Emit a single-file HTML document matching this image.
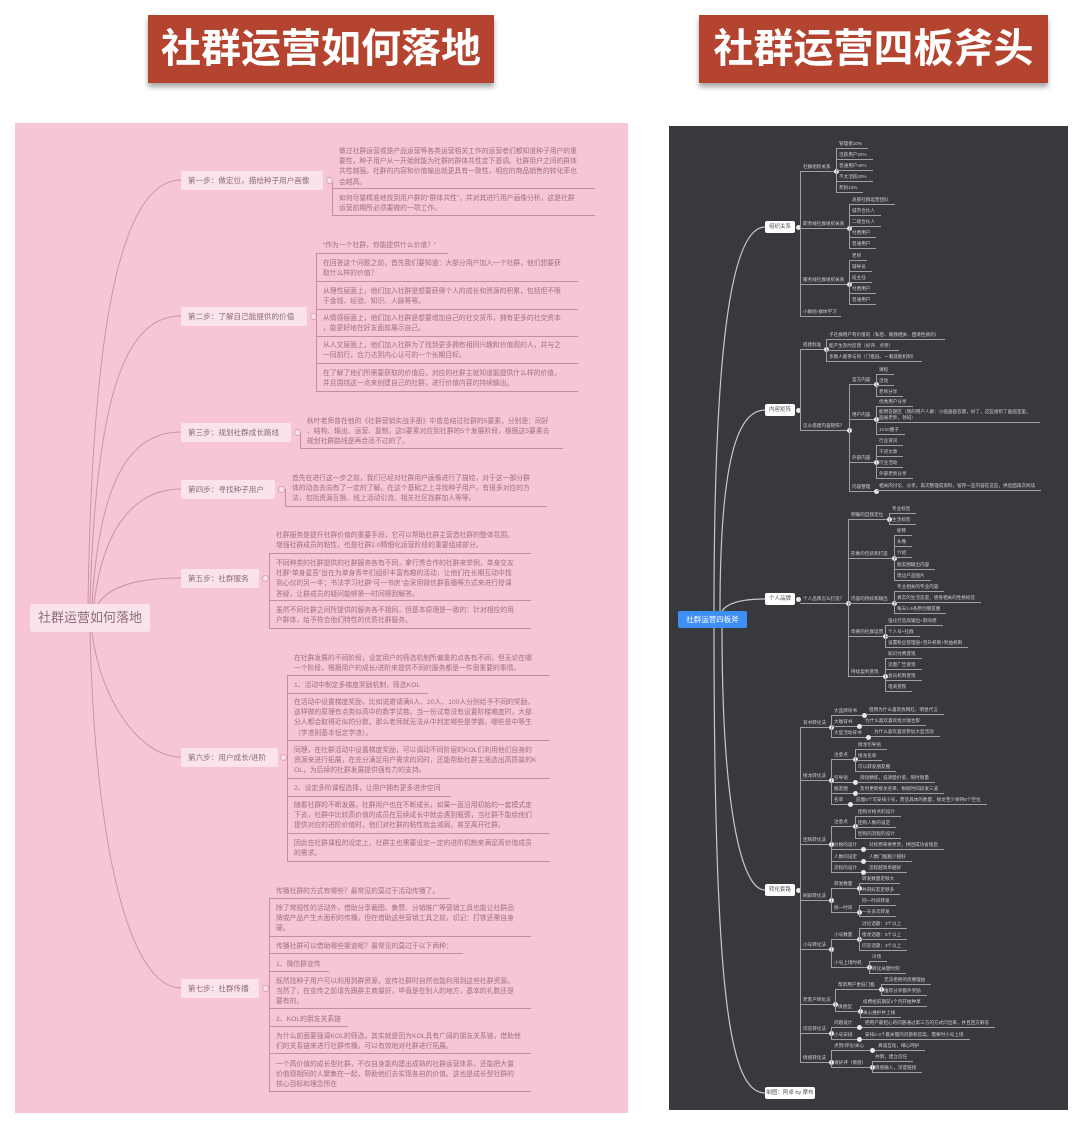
<!DOCTYPE html>
<html><head><meta charset="utf-8">
<style>
*{margin:0;padding:0;box-sizing:border-box}
body{width:1080px;height:1121px;background:#fff;position:relative;overflow:hidden;font-family:"Liberation Sans","Noto Sans CJK SC",sans-serif}
.title{position:absolute;top:15px;height:68px;background:#b4442f;color:#fff;font-size:40px;font-weight:bold;text-align:center;line-height:68px;box-shadow:0 4px 5px rgba(0,0,0,.35)}
#pink{position:absolute;left:15px;top:123px;width:613px;height:990px;background:#f7c6d6}
#dark{position:absolute;left:669px;top:126px;width:399px;height:984px;background:#38393d}
.a{position:absolute}
.step{position:absolute;left:181px;height:19px;background:#fbe3ea;border-radius:2px;color:#8c6b74;font-size:7.6px;line-height:19px;padding-left:7px;white-space:nowrap;overflow:hidden}
.tg{position:absolute;width:7px;height:7px;border-radius:50%;background:#fbe3ea;border:1px solid #d7a6b4}
.t{position:absolute;font-size:6.8px;line-height:10.2px;color:#a0707f;white-space:nowrap}
.u{position:absolute;height:0;border-top:1px solid #c48ea0}
.vb{position:absolute;width:0;border-left:1px solid #c48ea0}
.l{position:absolute;font-size:4.6px;line-height:6px;color:#cfcfcf;border-bottom:1px solid #a0a0a0;padding:0 6px 1px 3px;white-space:nowrap}
.g{position:absolute;font-size:4.6px;line-height:6px;color:#cfcfcf;border-bottom:1px solid #a0a0a0;padding:0 4px 1px 3px;white-space:nowrap}
.v{position:absolute;width:0;border-left:1px solid #a0a0a0}
.d{position:absolute;width:5px;height:5px;border-radius:50%;background:#e8e8e8;margin:-2px 0 0 -2px}
.bx{position:absolute;background:#fff;color:#555;font-size:5.5px;line-height:12px;height:12px;text-align:center;border-radius:2px;white-space:nowrap}
</style></head><body>
<div class="title" style="left:148px;width:346px">社群运营如何落地</div>
<div class="title" style="left:699px;width:349px">社群运营四板斧头</div>

<div id="pink"></div>
<svg class="a" style="left:0;top:0" width="1080" height="1121">
<g fill="none" stroke="#c995a5" stroke-width="1">
<path d="M88,604 C92,330 120,180 181,180"/>
<path d="M90,604 C96,380 130,316 181,316"/>
<path d="M92,604 C100,470 135,432 181,432"/>
<path d="M94,604 C104,520 140,489 181,489"/>
<path d="M98,604 C110,585 140,578 181,578"/>
<path d="M92,632 C100,700 140,757 181,757"/>
<path d="M90,632 C95,850 130,988 181,988"/>
</g>
</svg>

<div class="a" style="left:30px;top:604px;width:120px;height:28px;background:#fbe3ea;border-radius:3px;color:#8c6b74;font-size:13px;line-height:28px;text-align:center">社群运营如何落地</div>

<div class="step" style="top:171px;width:142px">第一步：做定位，描绘种子用户画像</div><div class="tg" style="left:326px;top:177px"></div>
<div class="step" style="top:307px;width:126px">第二步：了解自己能提供的价值</div><div class="tg" style="left:310px;top:313px"></div>
<div class="step" style="top:423px;width:110px">第三步：规划社群成长路线</div><div class="tg" style="left:294px;top:429px"></div>
<div class="step" style="top:480px;width:94px">第四步：寻找种子用户</div><div class="tg" style="left:278px;top:486px"></div>
<div class="step" style="top:569px;width:78px">第五步：社群服务</div><div class="tg" style="left:262px;top:575px"></div>
<div class="step" style="top:748px;width:97px">第六步：用户成长/进阶</div><div class="tg" style="left:280px;top:754px"></div>
<div class="step" style="top:979px;width:78px">第七步：社群传播</div><div class="tg" style="left:262px;top:985px"></div>

<div class="vb" style="left:332px;top:182px;height:33px"></div>
<div class="t" style="left:339px;top:147px">做过社群运营或是产品运营等各类运营相关工作的运营者们都知道种子用户的重<br>要性，种子用户从一开始就能为社群的群体共性定下基调。社群用户之间的群体<br>共性越强，社群的内容和价值输出就更具有一致性，相应的商品销售的转化率也<br>会越高。</div>
<div class="u" style="left:332px;top:188px;width:263px"></div>
<div class="t" style="left:339px;top:194px">如何尽量精准地找到用户群的“群体共性”，并对其进行用户画像分析，这是社群<br>运营前期所必须要做的一项工作。</div>
<div class="u" style="left:332px;top:215px;width:263px"></div>
<div class="vb" style="left:316px;top:253px;height:138px"></div>
<div class="t" style="left:323px;top:241px">“作为一个社群，你能提供什么价值？”</div>
<div class="u" style="left:316px;top:253px;width:132px"></div>
<div class="t" style="left:323px;top:259px">在回答这个问题之前，首先我们要知道：大部分用户加入一个社群，他们想要获<br>取什么样的价值？</div>
<div class="u" style="left:316px;top:281px;width:262px"></div>
<div class="t" style="left:323px;top:287px">从理性层面上，他们加入社群是想要获得个人的成长和资源的积累，包括但不限<br>于金钱、经验、知识、人脉等等。</div>
<div class="u" style="left:316px;top:309px;width:262px"></div>
<div class="t" style="left:323px;top:314px">从情感层面上，他们加入社群是想要增加自己的社交货币，拥有更多的社交资本<br>，能更好地在好友面前展示自己。</div>
<div class="u" style="left:316px;top:336px;width:262px"></div>
<div class="t" style="left:323px;top:341px">从人文层面上，他们加入社群为了找到更多拥有相同兴趣和价值观的人，并与之<br>一同前行，合力达到内心认可的一个长期目标。</div>
<div class="u" style="left:316px;top:363px;width:262px"></div>
<div class="t" style="left:323px;top:369px">在了解了他们所需要获取的价值后，对应的社群主就知道能提供什么样的价值，<br>并且围绕这一点来创建自己的社群，进行价值内容的持续输出。</div>
<div class="u" style="left:316px;top:391px;width:262px"></div>
<div class="vb" style="left:300px;top:432px;height:16px"></div>
<div class="t" style="left:307px;top:417px">秋叶老师曾在他的《社群营销实战手册》中曾总结过社群的5要素，分别是：同好<br>、结构、输出、运营、复制。这5要素对应到社群的5个发展阶段，根据这5要素去<br>规划社群路线是再合适不过的了。</div>
<div class="u" style="left:300px;top:448px;width:263px"></div>
<div class="vb" style="left:285px;top:489px;height:17px"></div>
<div class="t" style="left:292px;top:474px">首先在进行这一步之前，我们已经对社群用户画像进行了描绘，对于这一部分群<br>体的动态去向有了一定的了解。在这个基础之上寻找种子用户，有很多对应的方<br>法，包括资源互换、线上活动引流、相关社区找群加人等等。</div>
<div class="u" style="left:285px;top:506px;width:262px"></div>
<div class="vb" style="left:269px;top:553px;height:75px"></div>
<div class="t" style="left:276px;top:531px">社群服务是提升社群价值的重要手段，它可以帮助社群主营造社群的整体氛围，<br>增强社群成员的粘性，也是社群2.0精细化运营阶段的重要组成部分。</div>
<div class="u" style="left:269px;top:553px;width:262px"></div>
<div class="t" style="left:276px;top:559px">不同种类的社群提供的社群服务各有不同，拿行秀合作的社群来举例，单身交友<br>社群“单身星吾”旨在为单身青年们组织丰富有趣的活动，让他们在长期互动中找<br>到心仪的另一半；书法学习社群“可一书房”会采用微信群直播等方式来进行授课<br>答疑，让群成员的疑问能够第一时间得到解答。</div>
<div class="u" style="left:269px;top:600px;width:262px"></div>
<div class="t" style="left:276px;top:606px">虽然不同社群之间所提供的服务各不相同，但基本原理是一致的：针对相应的用<br>户群体，给予符合他们特性的优质社群服务。</div>
<div class="u" style="left:269px;top:628px;width:262px"></div>
<div class="vb" style="left:287px;top:675px;height:186px"></div>
<div class="t" style="left:294px;top:654px">在社群发展的不同阶段，设定用户的筛选机制所偏重的点各有不同，但无论在哪<br>一个阶段，根据用户的成长/进阶来提供不同的服务都是一件很重要的事情。</div>
<div class="u" style="left:287px;top:675px;width:263px"></div>
<div class="t" style="left:294px;top:681px">1、活动中制定多梯度奖励机制，筛选KOL</div>
<div class="u" style="left:287px;top:693px;width:141px"></div>
<div class="t" style="left:294px;top:698px">在活动中设置梯度奖励，比如说邀请满5人、20人、100人分别给予不同的奖励，<br>这样做的原理有点类似高中的数学试卷。当一份试卷没有设置阶梯难度时，大部<br>分人都会取得近似的分数，那么老师就无法从中判定哪些是学霸，哪些是中等生<br>（学渣则基本恒定学渣）。</div>
<div class="u" style="left:287px;top:740px;width:263px"></div>
<div class="t" style="left:294px;top:746px">同理，在社群活动中设置梯度奖励，可以调动不同阶层的KOL们利用他们自身的<br>资源来进行拓展，在充分满足用户需求的同时，还能帮助社群主筛选出高质量的K<br>OL，为后续的社群发展提供强有力的支持。</div>
<div class="u" style="left:287px;top:778px;width:263px"></div>
<div class="t" style="left:294px;top:784px">2、设定多阶课程选择，让用户拥有更多进步空间</div>
<div class="u" style="left:287px;top:796px;width:164px"></div>
<div class="t" style="left:294px;top:801px">随着社群的不断发展，社群用户也在不断成长，如果一直沿用初始的一套模式走<br>下去，社群中比较高价值的成员在后续成长中就会遇到瓶颈，当社群不能给他们<br>提供对应的进阶价值时，他们对社群的粘性就会减弱，甚至离开社群。</div>
<div class="u" style="left:287px;top:833px;width:263px"></div>
<div class="t" style="left:294px;top:839px">因此在社群课程的设定上，社群主也需要设定一定的进阶机制来满足高价值成员<br>的需求。</div>
<div class="u" style="left:287px;top:861px;width:263px"></div>
<div class="vb" style="left:269px;top:898px;height:193px"></div>
<div class="t" style="left:276px;top:887px">传播社群的方式有哪些？最常见的莫过于活动传播了。</div>
<div class="u" style="left:269px;top:898px;width:181px"></div>
<div class="t" style="left:276px;top:904px">除了常规性的活动外，借助分享截图、集赞、分销推广等营销工具也能让社群品<br>牌或产品产生大面积的传播，但在借助这些营销工具之前，切记：打铁还需自身<br>硬。</div>
<div class="u" style="left:269px;top:936px;width:262px"></div>
<div class="t" style="left:276px;top:942px">传播社群可以借助哪些渠道呢？最常见的莫过于以下两种：</div>
<div class="u" style="left:269px;top:953px;width:194px"></div>
<div class="t" style="left:276px;top:960px">1、微信群宣传</div>
<div class="u" style="left:269px;top:971px;width:60px"></div>
<div class="t" style="left:276px;top:977px">既然找种子用户可以利用到群资源，宣传社群时自然也能利用到这些社群资源。<br>当然了，在宣传之前请先跟群主商量好，毕竟是在别人的地方，基本的礼数还是<br>要有的。</div>
<div class="u" style="left:269px;top:1008px;width:262px"></div>
<div class="t" style="left:276px;top:1015px">2、KOL的朋友关系链</div>
<div class="u" style="left:269px;top:1026px;width:79px"></div>
<div class="t" style="left:276px;top:1032px">为什么前面要强调KOL的筛选，其实就是因为KOL具有广阔的朋友关系链，借助他<br>们的关系链来进行社群传播，可以有效地对社群进行拓展。</div>
<div class="u" style="left:269px;top:1053px;width:262px"></div>
<div class="t" style="left:276px;top:1060px">一个高价值的成长型社群，不仅自身能构建出成熟的社群运营体系，还能把大量<br>价值观相同的人聚集在一起，帮助他们去实现各自的价值。这也是成长型社群的<br>核心目标和理念所在</div>
<div class="u" style="left:269px;top:1091px;width:262px"></div>

<div id="dark"></div>
<svg class="a" style="left:0;top:0" width="1080" height="1121">
<g fill="none" stroke="#c8c8c8" stroke-width="1.2">
<path d="M714,611 C714,320 735,227 765,227"/>
<path d="M720,611 C720,450 740,410 765,410"/>
<path d="M722,611 C728,602 745,599 765,599"/>
<path d="M722,628 C722,800 740,890 765,890"/>
<path d="M714,628 C714,1000 730,1093 765,1093"/>
</g></svg>
<div class="a" style="left:678px;top:611px;width:69px;height:17px;background:#3d8ff5;border-radius:2px;color:#fff;font-size:7.5px;line-height:17px;text-align:center">社群运营四板斧</div>

<div class="bx" style="left:765px;top:221px;width:30px">组织关系</div>
<div class="bx" style="left:765px;top:404px;width:30px">内容矩阵</div>
<div class="bx" style="left:765px;top:593px;width:30px">个人品牌</div>
<div class="bx" style="left:765px;top:884px;width:30px">转化套路</div>
<div class="bx" style="left:765px;top:1087px;width:50px">制图：阿卓 by 摩布</div>
<div class="d" style="left:798px;top:227px"></div><div class="d" style="left:798px;top:410px"></div><div class="d" style="left:798px;top:599px"></div><div class="d" style="left:798px;top:890px"></div>

<div class="v" style="left:800px;top:171px;height:145px"></div>
<div class="g" style="left:800px;top:164px;width:36px">社群组织关系</div><div class="d" style="left:836px;top:171px"></div>
<div class="v" style="left:836px;top:148px;height:44px"></div>
<div class="l" style="left:836px;top:141px">管理者10%</div><div class="l" style="left:836px;top:152px">活跃用户20%</div><div class="l" style="left:836px;top:163px">普通用户40%</div><div class="l" style="left:836px;top:174px">不太活跃20%</div><div class="l" style="left:836px;top:185px">死粉10%</div>
<div class="g" style="left:800px;top:221px;width:49px">职责线社群组织关系</div><div class="d" style="left:849px;top:228px"></div>
<div class="v" style="left:849px;top:204px;height:44px"></div>
<div class="l" style="left:849px;top:197px">总部社群运营团队</div><div class="l" style="left:849px;top:208px">城市合伙人</div><div class="l" style="left:849px;top:219px">二级合伙人</div><div class="l" style="left:849px;top:230px">付费用户</div><div class="l" style="left:849px;top:241px">普通用户</div>
<div class="g" style="left:800px;top:277px;width:49px">服务线社群组织关系</div><div class="d" style="left:849px;top:284px"></div>
<div class="v" style="left:849px;top:260px;height:44px"></div>
<div class="l" style="left:849px;top:253px">老师</div><div class="l" style="left:849px;top:264px">辅导员</div><div class="l" style="left:849px;top:275px">班主任</div><div class="l" style="left:849px;top:286px">付费用户</div><div class="l" style="left:849px;top:297px">普通用户</div>
<div class="g" style="left:800px;top:309px">小群组-群体学习</div>

<div class="v" style="left:800px;top:349px;height:81px"></div>
<div class="g" style="left:800px;top:342px;width:26px">搭建标准</div><div class="d" style="left:826px;top:349px"></div>
<div class="v" style="left:826px;top:339px;height:22px"></div>
<div class="l" style="left:826px;top:332px">子社群用户有价值的（私密、跟我相关、困境性质的）</div>
<div class="l" style="left:826px;top:343px">能产生及时反馈（好评、点赞）</div>
<div class="l" style="left:826px;top:354px">多数人能参与的（门槛低、一看就能机制）</div>
<div class="g" style="left:800px;top:423px;width:49px">怎么搭建内容矩阵？</div><div class="d" style="left:849px;top:430px"></div>
<div class="v" style="left:849px;top:384px;height:107px"></div>
<div class="g" style="left:849px;top:377px;width:27px">官方内容</div><div class="d" style="left:876px;top:384px"></div>
<div class="v" style="left:876px;top:374px;height:22px"></div>
<div class="l" style="left:876px;top:367px">课程</div><div class="l" style="left:876px;top:378px">活动</div><div class="l" style="left:876px;top:389px">老师分享</div>
<div class="g" style="left:849px;top:412px;width:27px">用户内容</div><div class="d" style="left:876px;top:419px"></div>
<div class="v" style="left:876px;top:406px;height:28px"></div>
<div class="l" style="left:876px;top:399px">优秀用户分享</div>
<div class="l" style="left:876px;top:409px;width:164px;white-space:normal">能用答题区（我的用户人群：小画画画答题，好了，这些组织了画画室里，画展老师，领班）</div>
<div class="l" style="left:876px;top:427px">1V10圈子</div>
<div class="g" style="left:849px;top:455px;width:27px">外部内容</div><div class="d" style="left:876px;top:462px"></div>
<div class="v" style="left:876px;top:445px;height:33px"></div>
<div class="l" style="left:876px;top:438px">行业资讯</div><div class="l" style="left:876px;top:449px">干货文章</div><div class="l" style="left:876px;top:460px">行业活动</div><div class="l" style="left:876px;top:471px">外部老师分享</div>
<div class="g" style="left:849px;top:484px;width:27px">内容整理</div><div class="d" style="left:876px;top:491px"></div>
<div class="l" style="left:876px;top:483px">相关的讨论、分享，再次整理成资料，留存一些内容在这些，供后面再次阅读</div>

<div class="g" style="left:800px;top:596px;width:48px">个人品牌怎么打造？</div><div class="d" style="left:848px;top:603px"></div>
<div class="v" style="left:848px;top:519px;height:158px"></div>
<div class="g" style="left:848px;top:512px;width:41px">明确的自我定位</div><div class="d" style="left:889px;top:519px"></div>
<div class="v" style="left:889px;top:513px;height:11px"></div>
<div class="l" style="left:889px;top:506px">专业标签</div><div class="l" style="left:889px;top:517px">生活标签</div>
<div class="g" style="left:848px;top:551px;width:46px">形象的包装和打造</div><div class="d" style="left:894px;top:558px"></div>
<div class="v" style="left:894px;top:535px;height:45px"></div>
<div class="l" style="left:894px;top:528px">昵称</div><div class="l" style="left:894px;top:539px">头像</div><div class="l" style="left:894px;top:550px">介绍</div><div class="l" style="left:894px;top:562px">朋友圈输出内容</div><div class="l" style="left:894px;top:573px">周边产品图片</div>
<div class="g" style="left:848px;top:596px;width:46px">内容的持续和输出</div><div class="d" style="left:894px;top:603px"></div>
<div class="v" style="left:894px;top:591px;height:22px"></div>
<div class="l" style="left:894px;top:584px">专业相关的专业内容</div><div class="l" style="left:894px;top:595px">真实的生活态度，感受相关的性格标签</div><div class="l" style="left:894px;top:606px">每天1-5条原创朋友圈</div>
<div class="g" style="left:848px;top:629px;width:37px">简要的社群运营</div><div class="d" style="left:885px;top:636px"></div>
<div class="v" style="left:885px;top:625px;height:22px"></div>
<div class="l" style="left:885px;top:618px">强化打造高输出+影响感</div><div class="l" style="left:885px;top:629px">个人号+社群</div><div class="l" style="left:885px;top:640px">设置粉丝管理层+晋升机制+利益机制</div>
<div class="g" style="left:848px;top:669px;width:37px">持续盈利变现</div><div class="d" style="left:885px;top:676px"></div>
<div class="v" style="left:885px;top:658px;height:33px"></div>
<div class="l" style="left:885px;top:651px">知识付费变现</div><div class="l" style="left:885px;top:662px">流量广告变现</div><div class="l" style="left:885px;top:673px">会员机制变现</div><div class="l" style="left:885px;top:684px">电商变现</div>

<div class="v" style="left:800px;top:727px;height:335px"></div>
<div class="g" style="left:800px;top:720px;width:31px">背书转化法</div><div class="d" style="left:831px;top:727px"></div>
<div class="v" style="left:831px;top:715px;height:22px"></div>
<div class="g" style="left:831px;top:708px;width:33px">大品牌背书</div><div class="d" style="left:864px;top:715px"></div><div class="l" style="left:866px;top:707px">借用为什么喜欢找网红、明星代言</div>
<div class="g" style="left:831px;top:719px;width:28px">大咖背书</div><div class="d" style="left:859px;top:726px"></div><div class="l" style="left:862px;top:718px">为什么喜欢喜欢找大咖合影</div>
<div class="g" style="left:831px;top:730px;width:37px">大型活动背书</div><div class="d" style="left:868px;top:737px"></div><div class="l" style="left:871px;top:729px">为什么喜欢喜欢参加大型活动</div>

<div class="g" style="left:800px;top:773px;width:31px">接龙转化法</div><div class="d" style="left:831px;top:780px"></div>
<div class="v" style="left:831px;top:759px;height:45px"></div>
<div class="g" style="left:831px;top:752px;width:24px">注意点</div><div class="d" style="left:855px;top:759px"></div>
<div class="v" style="left:855px;top:749px;height:22px"></div>
<div class="l" style="left:855px;top:742px">接龙引导语</div><div class="l" style="left:855px;top:753px">接龙名单</div><div class="l" style="left:855px;top:764px">可以转发朋友圈</div>
<div class="g" style="left:831px;top:775px;width:24px">引导语</div><div class="d" style="left:855px;top:782px"></div><div class="l" style="left:857px;top:775px">简短精炼，说清楚价值，限时限量</div>
<div class="g" style="left:831px;top:786px;width:24px">朋友圈</div><div class="d" style="left:855px;top:793px"></div><div class="l" style="left:857px;top:786px">及时更新接龙名单，根据时间段发三波</div>
<div class="g" style="left:831px;top:797px;width:19px">名单</div><div class="d" style="left:850px;top:804px"></div><div class="l" style="left:853px;top:797px">前面5个可安排小号，营造具体的数量，接龙至少保持5个空位</div>

<div class="g" style="left:800px;top:837px;width:31px">团购转化法</div><div class="d" style="left:831px;top:844px"></div>
<div class="v" style="left:831px;top:826px;height:46px"></div>
<div class="g" style="left:831px;top:819px;width:24px">注意点</div><div class="d" style="left:855px;top:826px"></div>
<div class="v" style="left:855px;top:816px;height:22px"></div>
<div class="l" style="left:855px;top:809px">团购价格点的设计</div><div class="l" style="left:855px;top:820px">团购人数的设定</div><div class="l" style="left:855px;top:831px">团购的流程的设计</div>
<div class="g" style="left:831px;top:842px;width:32px">价格的设计</div><div class="d" style="left:863px;top:849px"></div><div class="l" style="left:866px;top:842px">对标原来要更贵，拼团成功省钱后</div>
<div class="g" style="left:831px;top:854px;width:32px">人数的设定</div><div class="d" style="left:863px;top:861px"></div><div class="l" style="left:866px;top:854px">人数门槛越少越好</div>
<div class="g" style="left:831px;top:865px;width:32px">流程的设计</div><div class="d" style="left:863px;top:872px"></div><div class="l" style="left:866px;top:865px">流程越简单越好</div>

<div class="g" style="left:800px;top:893px;width:31px">刷屏转化法</div><div class="d" style="left:831px;top:900px"></div>
<div class="v" style="left:831px;top:888px;height:24px"></div>
<div class="g" style="left:831px;top:881px;width:28px">转发数量</div><div class="d" style="left:859px;top:888px"></div>
<div class="v" style="left:859px;top:883px;height:11px"></div>
<div class="l" style="left:859px;top:876px">转发数量足够大</div><div class="l" style="left:859px;top:887px">共同好友足够多</div>
<div class="g" style="left:831px;top:905px;width:28px">统一时间</div><div class="d" style="left:859px;top:912px"></div>
<div class="v" style="left:859px;top:905px;height:11px"></div>
<div class="l" style="left:859px;top:898px">同一时间转发</div><div class="l" style="left:859px;top:909px">一天多次转发</div>

<div class="g" style="left:800px;top:942px;width:31px">小号转化法</div><div class="d" style="left:831px;top:949px"></div>
<div class="v" style="left:831px;top:939px;height:28px"></div>
<div class="g" style="left:831px;top:932px;width:28px">小号数量</div><div class="d" style="left:859px;top:939px"></div>
<div class="v" style="left:859px;top:928px;height:22px"></div>
<div class="l" style="left:859px;top:921px">讨论话题：3个以上</div><div class="l" style="left:859px;top:932px">接龙话题：5个以上</div><div class="l" style="left:859px;top:943px">问答话题：3个以上</div>
<div class="g" style="left:831px;top:960px;width:38px">小号上场时机</div><div class="d" style="left:869px;top:967px"></div>
<div class="v" style="left:869px;top:961px;height:12px"></div>
<div class="l" style="left:869px;top:954px">冷场</div><div class="l" style="left:869px;top:966px">转化关键时刻</div>

<div class="g" style="left:800px;top:997px;width:35px">老客户转化法</div><div class="d" style="left:835px;top:1004px"></div>
<div class="v" style="left:835px;top:989px;height:22px"></div>
<div class="g" style="left:835px;top:982px;width:46px">帮新用户更低门槛</div><div class="d" style="left:881px;top:989px"></div>
<div class="v" style="left:881px;top:984px;height:11px"></div>
<div class="l" style="left:881px;top:977px">无法拒绝的优惠理由</div><div class="l" style="left:881px;top:988px">推荐分享额外奖励</div>
<div class="g" style="left:835px;top:1004px;width:25px">情感型</div><div class="d" style="left:860px;top:1011px"></div>
<div class="v" style="left:860px;top:1006px;height:11px"></div>
<div class="l" style="left:860px;top:999px">续费给前期前1个月开始种草</div><div class="l" style="left:860px;top:1010px">关心维护并上线</div>

<div class="g" style="left:800px;top:1026px;width:31px">问答转化法</div><div class="d" style="left:831px;top:1033px"></div>
<div class="v" style="left:831px;top:1027px;height:12px"></div>
<div class="g" style="left:831px;top:1020px;width:28px">问题设计</div><div class="d" style="left:859px;top:1027px"></div><div class="l" style="left:862px;top:1020px">把用户最担心的问题通过第三方的方式问出来，并且回方解答</div>
<div class="g" style="left:831px;top:1032px;width:28px">小号安排</div><div class="d" style="left:859px;top:1039px"></div><div class="l" style="left:862px;top:1032px">安排2-3个最关键的问题和答案，需要时小号上场</div>

<div class="g" style="left:800px;top:1055px;width:31px">情感转化法</div><div class="d" style="left:831px;top:1062px"></div>
<div class="v" style="left:831px;top:1050px;height:17px"></div>
<div class="g" style="left:831px;top:1043px;width:41px">点赞/评论/关心</div><div class="d" style="left:872px;top:1050px"></div><div class="l" style="left:875px;top:1043px">真诚互动，细心呵护</div>
<div class="g" style="left:831px;top:1060px;width:41px">请好评（情感）</div><div class="d" style="left:872px;top:1067px"></div>
<div class="v" style="left:872px;top:1061px;height:11px"></div>
<div class="l" style="left:872px;top:1054px">共情，建立信任</div><div class="l" style="left:872px;top:1065px">情感融入，深度链接</div>
</body></html>
